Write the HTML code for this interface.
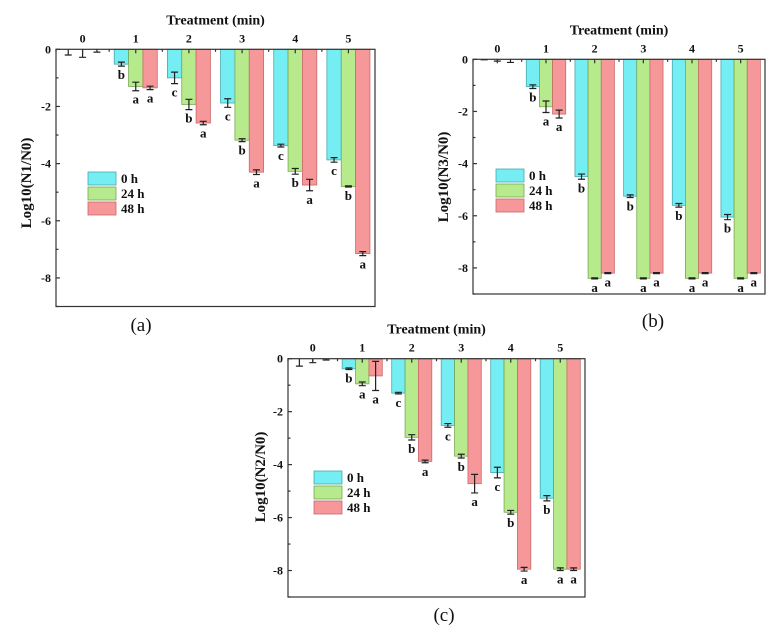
<!DOCTYPE html>
<html><head><meta charset="utf-8"><style>
body{margin:0;background:#fff;}
svg{display:block;font-family:"Liberation Serif",serif;font-weight:bold;}
</style></head><body>
<svg id="fig" width="779" height="636" viewBox="0 0 779 636"></svg>
<script>
const categories = ["0","1","2","3","4","5"];
const seriesNames = ["0 h","24 h","48 h"];
const yTicks = [0,-2,-4,-6,-8];
// Panel a
const a0 = [0,-0.52,-1.0,-1.88,-3.37,-3.87];
const a24 = [0,-1.3,-1.93,-3.18,-4.27,-4.8];
const a48 = [0,-1.35,-2.58,-4.3,-4.75,-7.15];
const aErr0 = [0.2,0.07,0.2,0.15,0.05,0.08];
const aErr24 = [0.28,0.15,0.18,0.05,0.1,0.02];
const aErr48 = [0.1,0.06,0.06,0.08,0.2,0.07];
const aLet0 = ["","b","c","c","c","c"];
const aLet24 = ["","a","b","b","b","b"];
const aLet48 = ["","a","a","a","a","a"];
// Panel b
const b0 = [0,-1.05,-4.5,-5.25,-5.6,-6.05];
const b24 = [0,-1.82,-8.4,-8.4,-8.4,-8.4];
const b48 = [0,-2.1,-8.2,-8.2,-8.2,-8.2];
const bErr0 = [0.02,0.07,0.1,0.05,0.07,0.1];
const bErr24 = [0.07,0.22,0.02,0.02,0.02,0.02];
const bErr48 = [0.12,0.15,0.02,0.02,0.02,0.02];
const bLet0 = ["","b","b","b","b","b"];
const bLet24 = ["","a","a","a","a","a"];
const bLet48 = ["","a","a","a","a","a"];
// Panel c
const c0 = [0,-0.38,-1.3,-2.52,-4.3,-5.27];
const c24 = [0,-0.95,-2.97,-3.68,-5.8,-7.95];
const c48 = [0,-0.65,-3.88,-4.72,-7.95,-7.95];
const cErr0 = [0.28,0.03,0.03,0.07,0.2,0.1];
const cErr24 = [0.15,0.07,0.1,0.07,0.07,0.05];
const cErr48 = [0.05,0.55,0.05,0.35,0.07,0.05];
const cLet0 = ["","b","c","c","c","b"];
const cLet24 = ["","a","b","b","b","a"];
const cLet48 = ["","a","a","a","a","a"];

const NS="http://www.w3.org/2000/svg";
const svg=document.getElementById('fig');
const fills=["#74eef3","#b6ea8c","#f6979a"];
const strokes=["#4aa8b0","#79a853","#c96a6a"];
function mk(tag,attrs,parent){const e=document.createElementNS(NS,tag);for(const k in attrs)e.setAttribute(k,attrs[k]);(parent||svg).appendChild(e);return e;}

function panel(p){
  const g=mk('g',{});
  
  
  const L=p.left,R=p.right,T=p.top,B=p.bottom;
  const sx=i=>L+(i+0.5)*(R-L)/categories.length;
  const sy=v=>T+(-v)/9*(B-T);
  const step=(R-L)/categories.length, bw=step*0.27;
  const vals=[p.s0,p.s24,p.s48], errs=[p.e0,p.e24,p.e48], lets=[p.l0,p.l24,p.l48];
  for(let s=0;s<3;s++){
    for(let i=0;i<categories.length;i++){
      const v=vals[s][i], x=sx(i)+(s-1.5)*bw;
      if(v<0){
        const r=mk('rect',{x:x,y:sy(0),width:bw,height:sy(v)-sy(0),fill:fills[s],stroke:strokes[s],'stroke-width':0.8},g);
        
        
      }
      const cx=x+bw/2, e=errs[s][i];
      const y1=v<0?sy(v+e):sy(0), y2=sy(v-e);
      const eb=mk('path',{d:`M${cx},${y1}V${y2}M${cx-3.5},${y2}H${cx+3.5}`+(v<0?`M${cx-3.5},${y1}H${cx+3.5}`:''),stroke:'#222','stroke-width':1.2,fill:'none'},g);
      
      
      if(lets[s][i]){
        const t=mk('text',{x:cx,y:y2+13,'text-anchor':'middle','font-size':13,fill:'#111'},g);
        t.textContent=lets[s][i];
        
        
      }
    }
  }
  // frame
  const fr=mk('rect',{x:L,y:T,width:R-L,height:B-T,fill:'none',stroke:'#333','stroke-width':1.2},g);
  
  
  // y ticks
  for(let v=0;v>=-9;v--){
    const major=yTicks.indexOf(v)>=0;
    mk('line',{x1:L,x2:L+(major?4:2.5),y1:sy(v),y2:sy(v),stroke:'#333','stroke-width':1.2},g);
  }
  yTicks.forEach(v=>{
    const t=mk('text',{x:L-5,y:sy(v)+4,'text-anchor':'end','font-size':12,fill:'#111'},g);
    t.textContent=v===0?'0':String(v);
    
    
  });
  categories.forEach((c,i)=>{
    mk('line',{x1:sx(i),x2:sx(i),y1:T,y2:T+4,stroke:'#333','stroke-width':1.2},g);
    mk('line',{x1:L+i*step,x2:L+i*step,y1:T,y2:T+2.5,stroke:'#333','stroke-width':1.2},g);
    const t=mk('text',{x:sx(i),y:T-7,'text-anchor':'middle','font-size':12,fill:'#111'},g);
    t.textContent=c;
    
    
  });
  const xt=mk('text',{x:(L+R)/2,y:T-25,'text-anchor':'middle','font-size':14,fill:'#111'},g);
  xt.textContent='Treatment (min)';
  
  
  const yt=mk('text',{x:0,y:0,'text-anchor':'middle','font-size':15,fill:'#111',transform:`translate(${p.ytx},${p.yty}) rotate(-90)`},g);
  yt.textContent=p.ytitle;
  
  
  // legend
  for(let s=0;s<3;s++){
    const y=p.lgy+s*15;
    const r=mk('rect',{x:p.lgx,y:y,width:28,height:13,fill:fills[s],stroke:strokes[s],'stroke-width':0.8},g);
    
    
    const t=mk('text',{x:p.lgx+33,y:y+11,'font-size':13,fill:'#111'},g);
    t.textContent=seriesNames[s];
    
    
  }
  const pl=mk('text',{x:p.plx,y:p.ply,'text-anchor':'middle','font-size':19,'font-weight':'normal',fill:'#111'},g);
  pl.textContent=p.plabel;
  
  
}
panel({name:'panel-a',key:'a',left:56,right:375,top:49.3,bottom:306.5,s0:a0,s24:a24,s48:a48,e0:aErr0,e24:aErr24,e48:aErr48,l0:aLet0,l24:aLet24,l48:aLet48,ytitle:'Log10(N1/N0)',ytx:31,yty:183,lgx:88,lgy:172,plabel:'(a)',plx:141,ply:331});
panel({name:'panel-b',key:'b',left:473,right:765,top:59.3,bottom:294,s0:b0,s24:b24,s48:b48,e0:bErr0,e24:bErr24,e48:bErr48,l0:bLet0,l24:bLet24,l48:bLet48,ytitle:'Log10(N3/N0)',ytx:448,yty:177,lgx:496,lgy:169,plabel:'(b)',plx:653,ply:327});
panel({name:'panel-c',key:'c',left:288,right:585,top:358.7,bottom:597,s0:c0,s24:c24,s48:c48,e0:cErr0,e24:cErr24,e48:cErr48,l0:cLet0,l24:cLet24,l48:cLet48,ytitle:'Log10(N2/N0)',ytx:265,yty:477,lgx:314,lgy:471,plabel:'(c)',plx:444,ply:621});
</script>
</body></html>
